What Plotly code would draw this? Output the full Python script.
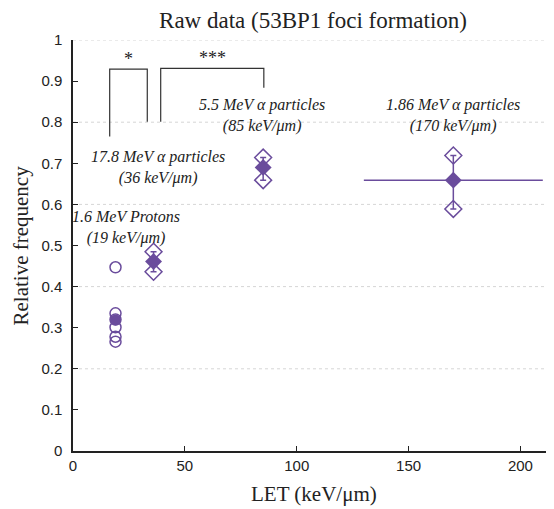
import plotly.graph_objects as go

# ---- data ----
proton_let = 19
proton_values = [0.447, 0.335, 0.320, 0.301, 0.278, 0.266]
proton_mean = 0.319

alpha_let = [36, 85, 170]
alpha_values = [[0.485, 0.436], [0.714, 0.659], [0.719, 0.589]]
alpha_mean = [0.461, 0.690, 0.659]
alpha_err_plus = [0.024, 0.024, 0.060]
alpha_err_minus = [0.025, 0.031, 0.070]
alpha_xerr = [0, 2, 40]

labels = [
    (23.5, 0.545, "1.6 MeV Protons<br>(19 keV/μm)"),
    (37.8, 0.691, "17.8 MeV α particles<br>(36 keV/μm)"),
    (84.7, 0.817, "5.5 MeV α particles<br>(85 keV/μm)"),
    (170, 0.816, "1.86 MeV α particles<br>(170 keV/μm)"),
]
# significance brackets: (x_left, y_left_bottom, x_right, y_right_bottom, y_top, label)
brackets = [
    (16.4, 0.765, 33.2, 0.801, 0.929, "*"),
    (39.2, 0.801, 85.3, 0.884, 0.931, "***"),
]
grid_y = [0.2, 0.4, 0.6, 0.8, 1.0]

purple = "#6a4c9c"
serif = "Liberation Serif"
sans = "Liberation Sans"

W, H = 546, 501   # page adds an 8px body margin
L, R, T, B = 65, 0, 32, 58
PW, PH = W - L - R, H - T - B

fig = go.Figure()

fig.add_trace(go.Scatter(
    x=[proton_let] * len(proton_values), y=proton_values, mode="markers",
    marker=dict(symbol="circle-open", size=11, color=purple, line=dict(width=1.5, color=purple)),
    showlegend=False, cliponaxis=False))
ax, ay = [], []
for xv, vals in zip(alpha_let, alpha_values):
    for v in vals:
        ax.append(xv)
        ay.append(v)
fig.add_trace(go.Scatter(
    x=ax, y=ay, mode="markers",
    marker=dict(symbol="diamond-open", size=13, color=purple, line=dict(width=1.5, color=purple)),
    showlegend=False, cliponaxis=False))
fig.add_trace(go.Scatter(
    x=[proton_let], y=[proton_mean], mode="markers",
    marker=dict(symbol="circle", size=11, color=purple),
    showlegend=False, cliponaxis=False))
fig.add_trace(go.Scatter(
    x=alpha_let, y=alpha_mean, mode="markers",
    marker=dict(symbol="diamond", size=13, color=purple),
    error_y=dict(type="data", array=alpha_err_plus, arrayminus=alpha_err_minus,
                 color=purple, thickness=1.5, width=3),
    error_x=dict(type="data", array=alpha_xerr, color=purple, thickness=1.5, width=0),
    showlegend=False, cliponaxis=False))

for gy in grid_y:
    fig.add_shape(type="line", xref="paper", x0=0, x1=1, yref="y", y0=gy, y1=gy,
                  line=dict(color="#d6d6d6", width=1, dash="dot"), layer="below")

for xl, yl, xr, yr, yt, txt in brackets:
    fig.add_shape(type="path",
                  path=f"M {xl},{yl} L {xl},{yt} L {xr},{yt} L {xr},{yr}",
                  line=dict(color="#333333", width=1.2))
    fig.add_annotation(x=(xl + xr) / 2, y=yt, text=txt, showarrow=False,
                       yanchor="bottom", yshift=-2,
                       font=dict(family=serif, size=18, color="#222222"))

for lx, ly, txt in labels:
    fig.add_annotation(x=lx, y=ly, text=f"<i>{txt}</i>", showarrow=False,
                       font=dict(family=serif, size=16, color="#222222"),
                       align="center")

fig.add_annotation(xref="paper", yref="paper", x=0.5, y=-43 / PH, text="LET (keV/μm)",
                   showarrow=False, yanchor="middle",
                   font=dict(family=serif, size=21, color="#222222"))
fig.add_annotation(xref="paper", yref="paper", x=-(L - 12) / PW, y=0.5,
                   text="Relative frequency", textangle=-90, showarrow=False,
                   xanchor="center", yanchor="middle",
                   font=dict(family=serif, size=21, color="#222222"))

fig.update_layout(
    width=W, height=H,
    margin=dict(l=L, r=R, t=T, b=B, pad=0),
    paper_bgcolor="white", plot_bgcolor="white",
    title=dict(text="Raw data (53BP1 foci formation)", x=305 / W, xanchor="center",
               y=1 - 12 / H, yanchor="middle",
               font=dict(family=serif, size=23, color="#222222")),
    xaxis=dict(range=[0, 215], tickvals=[0, 50, 100, 150, 200], showgrid=False,
               zeroline=False, showline=True, linecolor="#222222", linewidth=1.5,
               ticks="inside", ticklen=5, tickcolor="#222222",
               tickfont=dict(family=sans, size=15, color="#222222")),
    yaxis=dict(range=[0, 1], showgrid=False, zeroline=False,
               showline=True, linecolor="#222222", linewidth=1.5,
               ticks="inside", ticklen=5, tickcolor="#222222",
               tickvals=[0, 0.1, 0.2, 0.3, 0.4, 0.5, 0.6, 0.7, 0.8, 0.9, 1],
               ticktext=["0", "0.1", "0.2", "0.3", "0.4", "0.5", "0.6", "0.7", "0.8", "0.9", "1"],
               tickfont=dict(family=sans, size=15, color="#222222"),
               ticklabelstandoff=6),
)

fig.write_html("out.html")
